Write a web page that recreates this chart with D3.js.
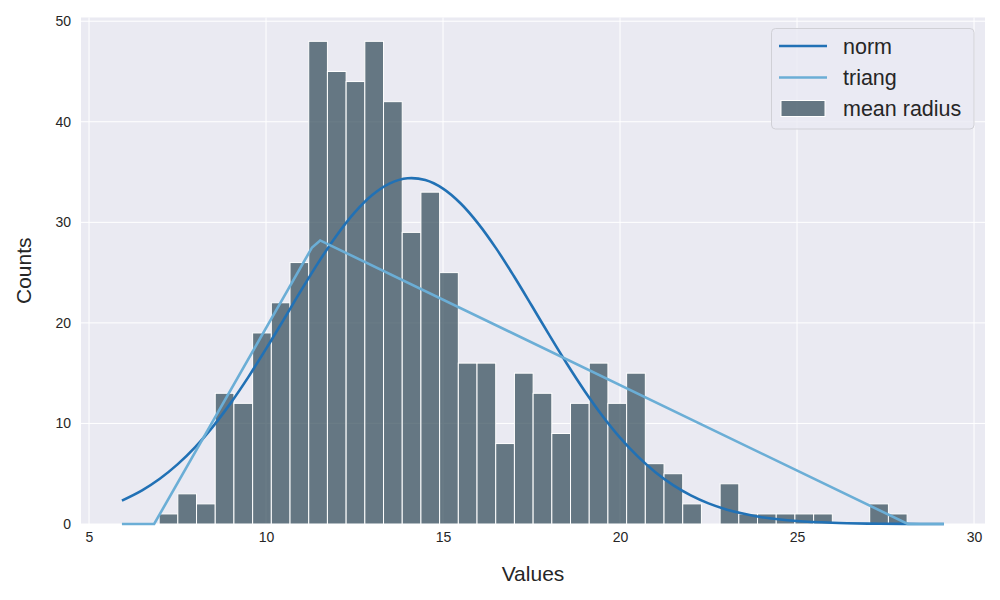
<!DOCTYPE html>
<html>
<head>
<meta charset="utf-8">
<script src="https://cdn.jsdelivr.net/npm/d3@7"></script>
<style>
  body { margin: 0; background: #fff; }
  text { font-family: "Liberation Sans", Arial, sans-serif; fill: #262626; }
</style>
</head>
<body>
<div id="chart"></div>
<script>
// histogram: 40 bins of "mean radius"
var binLo = 6.981, binHi = 28.11;
var counts = [1, 3, 2, 13, 12, 19, 22, 26, 48, 45, 44, 48, 42, 29, 33, 25, 16, 16, 8, 15,
              13, 9, 12, 16, 12, 15, 6, 5, 2, 0, 4, 1, 1, 1, 1, 1, 0, 0, 2, 1];

// fitted curves
var normX = [5.93, 6.5, 7, 7.5, 8, 8.5, 9, 9.5, 10, 10.5, 11, 11.5, 12, 12.5, 13, 13.5, 14, 14.5,
             15, 15.5, 16, 16.5, 17, 17.5, 18, 18.5, 19, 19.5, 20, 20.5, 21, 21.5, 22, 22.5,
             23, 23.5, 24, 25, 26, 27, 28, 29.15];
var normY = [2.33, 3.35, 4.5, 5.93, 7.65, 9.69, 12.02, 14.61, 17.41, 20.33, 23.28, 26.12, 28.72,
             30.96, 32.71, 33.87, 34.38, 34.2, 33.35, 31.87, 29.85, 27.41, 24.66, 21.75, 18.8,
             15.93, 13.23, 10.77, 8.59, 6.72, 5.15, 3.87, 2.85, 2.05, 1.45, 1.01, 0.68, 0.3,
             0.12, 0.04, 0.01, 0];
var triangX = [5.93, 6.84, 11.3, 11.53, 28.13, 29.15];
var triangY = [0, 0, 27.5, 28.2, 0, 0];

var xTicks = [5, 10, 15, 20, 25, 30];
var yTicks = [0, 10, 20, 30, 40, 50];

var W = 1000, H = 600;
var margin = {top: 17.5, right: 15, bottom: 76, left: 81};

var x = d3.scaleLinear().domain([4.774, 30.31]).range([margin.left, W - margin.right]);
var y = d3.scaleLinear().domain([0, 50.37]).range([H - margin.bottom, margin.top]);

var svg = d3.select("#chart").append("svg")
    .attr("width", W)
    .attr("height", H);

// background
svg.append("rect")
    .attr("x", margin.left).attr("y", margin.top)
    .attr("width", x.range()[1] - x.range()[0])
    .attr("height", y.range()[0] - y.range()[1])
    .attr("fill", "#eaeaf2");

// grid
svg.append("g").selectAll("line")
    .data(xTicks).enter().append("line")
    .attr("x1", d => x(d)).attr("x2", d => x(d))
    .attr("y1", y.range()[1]).attr("y2", y.range()[0])
    .attr("stroke", "#fff").attr("stroke-width", 1);
svg.append("g").selectAll("line")
    .data(yTicks).enter().append("line")
    .attr("x1", x.range()[0]).attr("x2", x.range()[1])
    .attr("y1", d => y(d)).attr("y2", d => y(d))
    .attr("stroke", "#fff").attr("stroke-width", 1);

// bars
var barColor = "#3d5461";
var bw = (binHi - binLo) / counts.length;
svg.append("g").selectAll("rect")
    .data(counts).enter().append("rect")
    .attr("x", (d, i) => x(binLo + i * bw))
    .attr("width", (d, i) => x(binLo + (i + 1) * bw) - x(binLo + i * bw))
    .attr("y", d => y(d))
    .attr("height", d => y(0) - y(d))
    .attr("fill", barColor)
    .attr("fill-opacity", 0.77)
    .attr("stroke", "#fff")
    .attr("stroke-width", d => d > 0 ? 1 : 0);

// curves
var smooth = d3.line().x(d => x(d[0])).y(d => y(d[1])).curve(d3.curveCatmullRom.alpha(0.5));
var straight = d3.line().x(d => x(d[0])).y(d => y(d[1]));
svg.append("path")
    .datum(d3.zip(normX, normY))
    .attr("d", smooth)
    .attr("fill", "none").attr("stroke", "#2171b5").attr("stroke-width", 2.6);
svg.append("path")
    .datum(d3.zip(triangX, triangY))
    .attr("d", straight)
    .attr("fill", "none").attr("stroke", "#6baed6").attr("stroke-width", 2.6);

// axes (no lines, labels only)
var xAxis = svg.append("g")
    .attr("transform", "translate(0," + y(0) + ")")
    .call(d3.axisBottom(x).tickValues(xTicks).tickSize(0).tickPadding(8));
var yAxis = svg.append("g")
    .attr("transform", "translate(" + margin.left + ",0)")
    .call(d3.axisLeft(y).tickValues(yTicks).tickSize(0).tickPadding(10));
[xAxis, yAxis].forEach(function(a) {
  a.select(".domain").remove();
  a.selectAll("text")
    .style("font-family", "'Liberation Sans', Arial, sans-serif")
    .style("font-size", "14px")
    .attr("fill", "#262626");
});

// axis titles
svg.append("text")
    .attr("x", (x.range()[0] + x.range()[1]) / 2)
    .attr("y", 581)
    .attr("text-anchor", "middle")
    .style("font-size", "21px")
    .text("Values");
svg.append("text")
    .attr("transform", "translate(31," + ((y.range()[0] + y.range()[1]) / 2) + ") rotate(-90)")
    .attr("text-anchor", "middle")
    .style("font-size", "21px")
    .text("Counts");

// legend
var lg = svg.append("g");
lg.append("rect")
    .attr("x", 771.5).attr("y", 28.5)
    .attr("width", 202.5).attr("height", 100.5)
    .attr("rx", 4)
    .attr("fill", "#eaeaf2").attr("fill-opacity", 0.8)
    .attr("stroke", "#d0d0d6");
var legItems = [
  {name: "norm", color: "#2171b5", type: "line"},
  {name: "triang", color: "#6baed6", type: "line"},
  {name: "mean radius", color: barColor, type: "patch"}
];
var rowY = [46, 77.5, 108.5];
legItems.forEach(function(it, i) {
  if (it.type == "line") {
    lg.append("line")
      .attr("x1", 779).attr("x2", 827)
      .attr("y1", rowY[i]).attr("y2", rowY[i])
      .attr("stroke", it.color).attr("stroke-width", 2.6);
  } else {
    lg.append("rect")
      .attr("x", 781).attr("y", rowY[i] - 8)
      .attr("width", 44).attr("height", 16)
      .attr("fill", it.color).attr("fill-opacity", 0.77)
      .attr("stroke", "#fff");
  }
  lg.append("text")
    .attr("x", 843).attr("y", rowY[i] + 7.5)
    .style("font-size", "21.5px")
    .text(it.name);
});
</script>
</body>
</html>
